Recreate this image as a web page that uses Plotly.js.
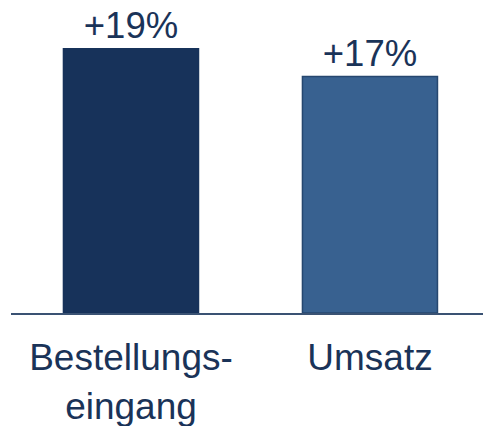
<!DOCTYPE html>
<html>
<head>
<meta charset="utf-8">
<script src="https://cdn.plot.ly/plotly-3.0.1.min.js"></script>
<style>html,body{margin:0;padding:0;background:#fff;}#chart{width:483px;height:426px;}</style>
</head>
<body>
<div id="chart"></div>
<script>
const categories = ["Bestellungs-<br>eingang", "Umsatz"];
const values = [19, 17];
const labels = ["+19%", "+17%"];
const colors = ["#17325A", "#386190"];
const outlines = ["#17325A", "#26476F"];

const trace = {
  type: "bar",
  x: categories,
  y: values,
  text: labels,
  textposition: "outside",
  cliponaxis: false,
  textfont: {family: "Liberation Sans, Arial, sans-serif", size: 36.5, color: "#1A3358"},
  marker: {color: colors, line: {color: outlines, width: 1.5}},
  width: 0.565,
  hoverinfo: "none"
};

const layout = {
  width: 483,
  height: 426,
  margin: {l: 11, r: 0, t: 0, b: 113},
  paper_bgcolor: "#fff",
  plot_bgcolor: "#fff",
  showlegend: false,
  xaxis: {
    type: "category",
    range: [-0.502, 1.473],
    showline: true,
    linecolor: "#3A5273",
    linewidth: 2,
    ticks: "",
    showgrid: false,
    zeroline: false,
    tickfont: {family: "Liberation Sans, Arial, sans-serif", size: 37, color: "#1A3358"},
    ticklabelstandoff: 11
  },
  yaxis: {
    range: [0, 22.5],
    visible: false,
    showgrid: false,
    zeroline: false
  }
};

Plotly.newPlot("chart", [trace], layout, {staticPlot: true, displayModeBar: false});
</script>
</body>
</html>
